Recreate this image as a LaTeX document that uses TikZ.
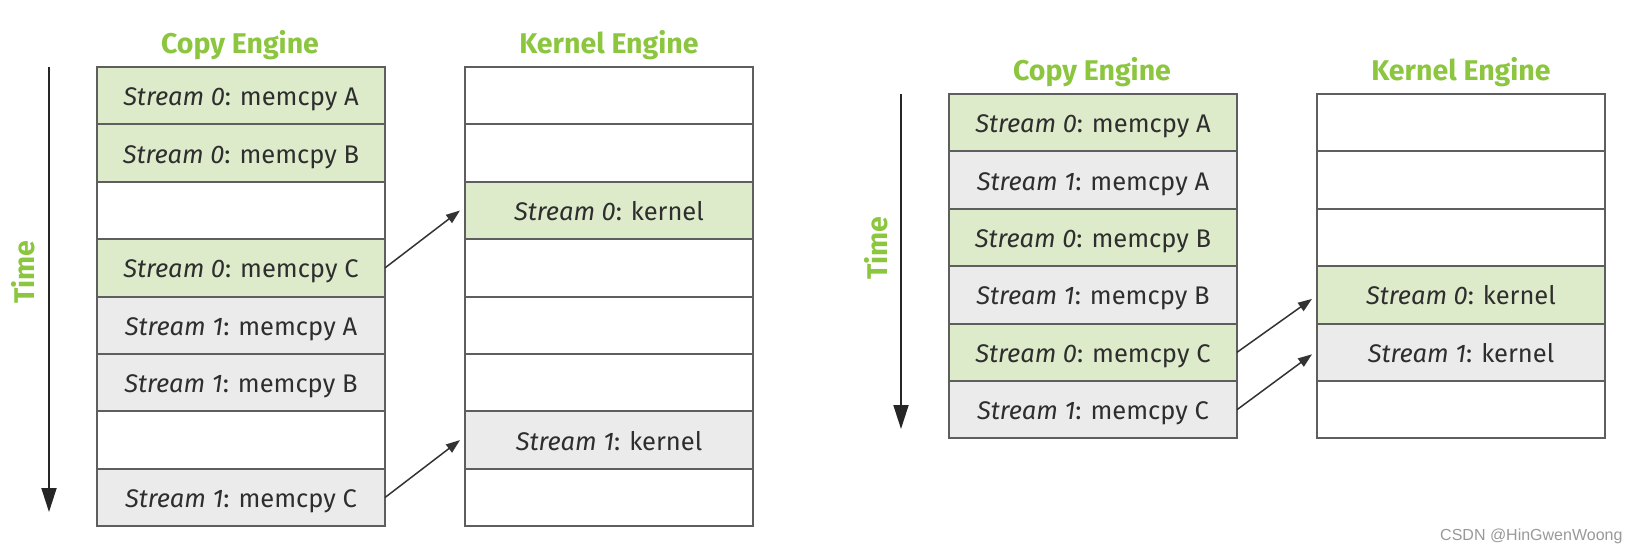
\documentclass[tikz,border=0pt]{standalone}
\usepackage{fontspec}
\setmainfont{Fira Sans}
\newfontfamily\wmfont{Liberation Sans}
\usetikzlibrary{arrows.meta}
\definecolor{gfill}{HTML}{DEEBCA}
\definecolor{kfill}{HTML}{EBEBEB}
\definecolor{bline}{HTML}{5E5E5E}
\definecolor{ttl}{HTML}{8CC63F}
\tikzset{
  cell/.style={draw=bline, line width=2pt, minimum width=288pt, minimum height=57.4pt,
    inner sep=0pt, outer sep=0pt, text height=20pt, text depth=0pt,
    font=\fontsize{25.5}{28}\selectfont, text=black!82},
  gcell/.style={cell, fill=gfill},
  kcell/.style={cell, fill=kfill},
  wcell/.style={cell, fill=white},
  title/.style={text=ttl, font=\fontsize{28.5}{31}\selectfont\bfseries},
  timearrow/.style={draw=black!85, line width=1.8pt, -{Triangle[length=24pt,width=15pt]}},
  conn/.style={draw=black!80, line width=1.5pt, -{Triangle[length=14pt,width=10pt]}},
}
\begin{document}
\begin{tikzpicture}[x=1pt,y=-1pt]
\useasboundingbox (0,0) rectangle (1639,554);
\fill[white] (0,0) rectangle (1639,554);
% ---------- Left diagram ----------
\node[title] (lct) at (240,45) {Copy Engine};
\node[title] (lkt) at (609,45) {Kernel Engine};
\coordinate (lts) at (49,67);
\coordinate (lte) at (49,512);
\draw[timearrow] (lts) -- (lte);
\node[title, rotate=90] (ltime) at (23,272) {Time};
% copy engine rows
\node[gcell] (lc0) at (241,95.7) {\textit{Stream 0}: memcpy A};
\node[gcell] (lc1) at (241,153.1) {\textit{Stream 0}: memcpy B};
\node[wcell] (lc2) at (241,210.5) {};
\node[gcell] (lc3) at (241,267.9) {\textit{Stream 0}: memcpy C};
\node[kcell] (lc4) at (241,325.3) {\textit{Stream 1}: memcpy A};
\node[kcell] (lc5) at (241,382.7) {\textit{Stream 1}: memcpy B};
\node[wcell] (lc6) at (241,440.1) {};
\node[kcell] (lc7) at (241,497.5) {\textit{Stream 1}: memcpy C};
% kernel engine rows
\node[wcell] (lk0) at (609,95.7) {};
\node[wcell] (lk1) at (609,153.1) {};
\node[gcell] (lk2) at (609,210.5) {\textit{Stream 0}: kernel};
\node[wcell] (lk3) at (609,267.9) {};
\node[wcell] (lk4) at (609,325.3) {};
\node[wcell] (lk5) at (609,382.7) {};
\node[kcell] (lk6) at (609,440.1) {\textit{Stream 1}: kernel};
\node[wcell] (lk7) at (609,497.5) {};
\draw[conn] (lc3.east) -- ([xshift=-5pt]lk2.west);
\draw[conn] (lc7.east) -- ([xshift=-5pt]lk6.west);
% ---------- Right diagram ----------
\node[title] (rct) at (1092,72) {Copy Engine};
\node[title] (rkt) at (1461,72) {Kernel Engine};
\coordinate (rts) at (901,94);
\coordinate (rte) at (901,429);
\draw[timearrow] (rts) -- (rte);
\node[title, rotate=90] (rtime) at (876,248) {Time};
\node[gcell] (rc0) at (1093,122.7) {\textit{Stream 0}: memcpy A};
\node[kcell] (rc1) at (1093,180.1) {\textit{Stream 1}: memcpy A};
\node[gcell] (rc2) at (1093,237.5) {\textit{Stream 0}: memcpy B};
\node[kcell] (rc3) at (1093,294.9) {\textit{Stream 1}: memcpy B};
\node[gcell] (rc4) at (1093,352.3) {\textit{Stream 0}: memcpy C};
\node[kcell] (rc5) at (1093,409.7) {\textit{Stream 1}: memcpy C};
\node[wcell] (rk0) at (1461,122.7) {};
\node[wcell] (rk1) at (1461,180.1) {};
\node[wcell] (rk2) at (1461,237.5) {};
\node[gcell] (rk3) at (1461,294.9) {\textit{Stream 0}: kernel};
\node[kcell] (rk4) at (1461,352.3) {\textit{Stream 1}: kernel};
\node[wcell] (rk5) at (1461,409.7) {};
\draw[conn] (rc4.east) -- ([xshift=-5pt,yshift=-4pt]rk3.west);
\draw[conn] (rc5.east) -- ([xshift=-5pt,yshift=-2pt]rk4.west);
% watermark
\node[text=black!40, font=\wmfont\fontsize{16}{18}\selectfont, anchor=east] (wm) at (1626,536) {CSDN @HinGwenWoong};
\end{tikzpicture}
\end{document}
